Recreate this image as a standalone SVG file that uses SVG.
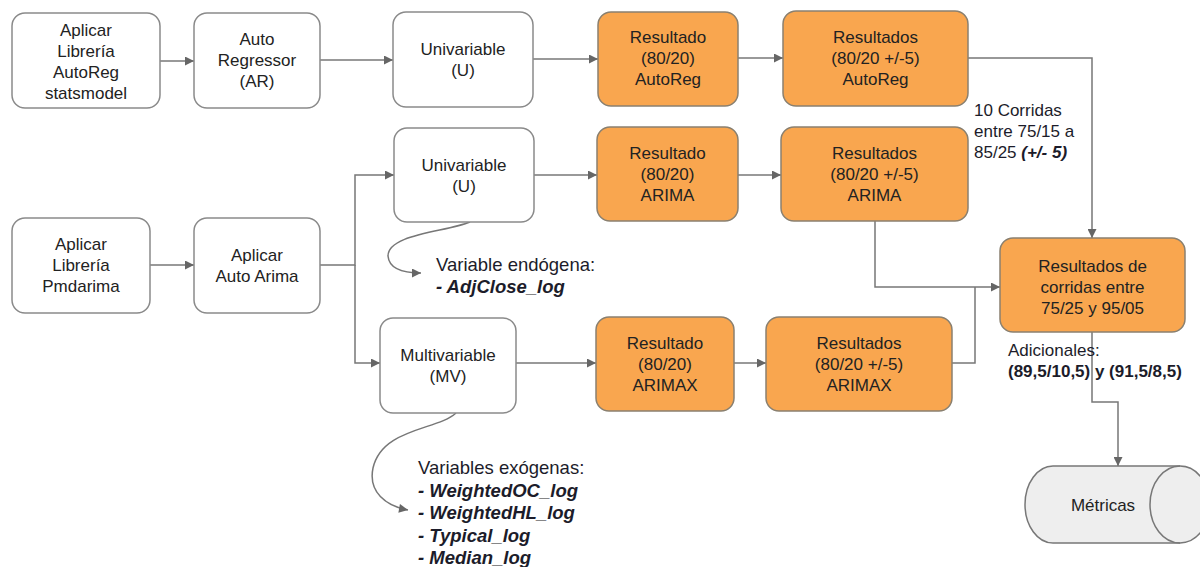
<svg xmlns="http://www.w3.org/2000/svg" width="1200" height="567" viewBox="0 0 1200 567">
<defs>
<marker id="ah" viewBox="0 0 10 10" refX="10" refY="5" markerWidth="10" markerHeight="9" markerUnits="userSpaceOnUse" orient="auto">
<path d="M0,0 L10,5 L0,10 z" fill="#666"/>
</marker>
<style>
.box{fill:#fff;stroke:#8a8a8a;stroke-width:1.5}
.or{fill:#F9A64F;stroke:#8a8070;stroke-width:1.5}
.t{font-family:"Liberation Sans",Arial,sans-serif;font-size:17px;fill:#222;text-anchor:middle}
.a{font-family:"Liberation Sans",Arial,sans-serif;font-size:17px;fill:#1c1c2a}
.v{font-family:"Liberation Sans",Arial,sans-serif;font-size:18.5px;fill:#1c1c2a}
.bi{font-weight:bold;font-style:italic}
.c{fill:none;stroke:#777;stroke-width:1.5}
</style>
</defs>
<rect width="1200" height="567" fill="#fff"/>
<g id="connectors">
<path class="c" d="M160 61 H194" marker-end="url(#ah)"/>
<path class="c" d="M320 60 H393" marker-end="url(#ah)"/>
<path class="c" d="M533 59 H598" marker-end="url(#ah)"/>
<path class="c" d="M738 58 H783" marker-end="url(#ah)"/>
<path class="c" d="M968 58 H1092 V238" marker-end="url(#ah)"/>
<path class="c" d="M150 265 H194" marker-end="url(#ah)"/>
<path class="c" d="M320 265 H355 V175 H394" marker-end="url(#ah)"/>
<path class="c" d="M355 265 V363 H380" marker-end="url(#ah)"/>
<path class="c" d="M534 175 H597" marker-end="url(#ah)"/>
<path class="c" d="M738 175 H781" marker-end="url(#ah)"/>
<path class="c" d="M875 221 V287 H1000" marker-end="url(#ah)"/>
<path class="c" d="M516 363 H596" marker-end="url(#ah)"/>
<path class="c" d="M734 363 H766" marker-end="url(#ah)"/>
<path class="c" d="M952 363 H975 V287"/>
<path class="c" d="M1092 332 V402 H1118 V466" marker-end="url(#ah)"/>
<path class="c" d="M470 222 C446 232 388 234 388 256 C389 268 402 273 421 273" marker-end="url(#ah)"/>
<path class="c" d="M456 413 C438 430 382 428 373 468 C368 492 386 506 408 510" marker-end="url(#ah)"/>
</g>
<g id="n-autoreg-lib">
<rect class="box" x="12" y="13" width="148" height="95" rx="13"/>
<text class="t" x="86" y="36"><tspan x="86">Aplicar</tspan><tspan x="86" dy="21">Librería</tspan><tspan x="86" dy="21">AutoReg</tspan><tspan x="86" dy="21">statsmodel</tspan></text>
</g>
<g id="n-ar">
<rect class="box" x="194" y="13" width="126" height="95" rx="13"/>
<text class="t" x="257" y="45"><tspan x="257">Auto</tspan><tspan x="257" dy="21">Regressor</tspan><tspan x="257" dy="21">(AR)</tspan></text>
</g>
<g id="n-uni1">
<rect class="box" x="393" y="12" width="140" height="95" rx="13"/>
<text class="t" x="463" y="55"><tspan x="463">Univariable</tspan><tspan x="463" dy="21">(U)</tspan></text>
</g>
<g id="n-res-autoreg">
<rect class="or" x="598" y="12" width="140" height="94" rx="13"/>
<text class="t" x="668" y="43"><tspan x="668">Resultado</tspan><tspan x="668" dy="21">(80/20)</tspan><tspan x="668" dy="21">AutoReg</tspan></text>
</g>
<g id="n-ress-autoreg">
<rect class="or" x="783" y="11" width="185" height="95" rx="13"/>
<text class="t" x="875.5" y="43"><tspan x="875.5">Resultados</tspan><tspan x="875.5" dy="21">(80/20 +/-5)</tspan><tspan x="875.5" dy="21">AutoReg</tspan></text>
</g>
<g id="n-uni2">
<rect class="box" x="394" y="128" width="140" height="94" rx="13"/>
<text class="t" x="464" y="171"><tspan x="464">Univariable</tspan><tspan x="464" dy="21">(U)</tspan></text>
</g>
<g id="n-res-arima">
<rect class="or" x="597" y="127" width="141" height="94" rx="13"/>
<text class="t" x="667.5" y="159"><tspan x="667.5">Resultado</tspan><tspan x="667.5" dy="21">(80/20)</tspan><tspan x="667.5" dy="21">ARIMA</tspan></text>
</g>
<g id="n-ress-arima">
<rect class="or" x="781" y="127" width="187" height="94" rx="13"/>
<text class="t" x="874.5" y="159"><tspan x="874.5">Resultados</tspan><tspan x="874.5" dy="21">(80/20 +/-5)</tspan><tspan x="874.5" dy="21">ARIMA</tspan></text>
</g>
<g id="n-pmdarima">
<rect class="box" x="12" y="218" width="138" height="95" rx="13"/>
<text class="t" x="81" y="250"><tspan x="81">Aplicar</tspan><tspan x="81" dy="21">Librería</tspan><tspan x="81" dy="21">Pmdarima</tspan></text>
</g>
<g id="n-autoarima">
<rect class="box" x="194" y="218" width="126" height="95" rx="13"/>
<text class="t" x="257" y="261"><tspan x="257">Aplicar</tspan><tspan x="257" dy="21">Auto Arima</tspan></text>
</g>
<g id="n-final">
<rect class="or" x="1000" y="238" width="185" height="94" rx="13"/>
<text class="t" x="1092.5" y="272"><tspan x="1092.5">Resultados de</tspan><tspan x="1092.5" dy="21">corridas entre</tspan><tspan x="1092.5" dy="21">75/25 y 95/05</tspan></text>
</g>
<g id="n-multi">
<rect class="box" x="380" y="318" width="136" height="95" rx="13"/>
<text class="t" x="448" y="361"><tspan x="448">Multivariable</tspan><tspan x="448" dy="21">(MV)</tspan></text>
</g>
<g id="n-res-arimax">
<rect class="or" x="596" y="317" width="138" height="94" rx="13"/>
<text class="t" x="665" y="349"><tspan x="665">Resultado</tspan><tspan x="665" dy="21">(80/20)</tspan><tspan x="665" dy="21">ARIMAX</tspan></text>
</g>
<g id="n-ress-arimax">
<rect class="or" x="766" y="317" width="186" height="94" rx="13"/>
<text class="t" x="859" y="349"><tspan x="859">Resultados</tspan><tspan x="859" dy="21">(80/20 +/-5)</tspan><tspan x="859" dy="21">ARIMAX</tspan></text>
</g>
<g id="n-metricas">
<path d="M1053 466 H1180 A30 38.5 0 0 1 1180 543 H1053 A28 38.5 0 0 1 1053 466 Z" fill="#eeeeee" stroke="#777" stroke-width="1.5"/>
<path d="M1180 466 A30 38.5 0 0 0 1180 543" fill="none" stroke="#777" stroke-width="1.5"/>
<text class="t" x="1103" y="511">Métricas</text>
</g>
<g id="labels">
<text class="a" x="974" y="116"><tspan x="974">10 Corridas</tspan><tspan x="974" dy="21">entre 75/15 a</tspan><tspan x="974" dy="21">85/25 <tspan class="bi">(+/- 5)</tspan></tspan></text>
<text class="a" x="1008" y="356"><tspan x="1008">Adicionales:</tspan><tspan x="1008" dy="21" font-weight="bold">(89,5/10,5) y (91,5/8,5)</tspan></text>
<text class="v" x="436" y="271"><tspan x="436">Variable endógena:</tspan><tspan x="436" dy="22" class="bi">- AdjClose_log</tspan></text>
<text class="v" x="418" y="474"><tspan x="418">Variables exógenas:</tspan><tspan x="418" dy="22.5" class="bi">- WeightedOC_log</tspan><tspan x="418" dy="22.5" class="bi">- WeightedHL_log</tspan><tspan x="418" dy="22.5" class="bi">- Typical_log</tspan><tspan x="418" dy="22.5" class="bi">- Median_log</tspan></text>
</g>
</svg>
